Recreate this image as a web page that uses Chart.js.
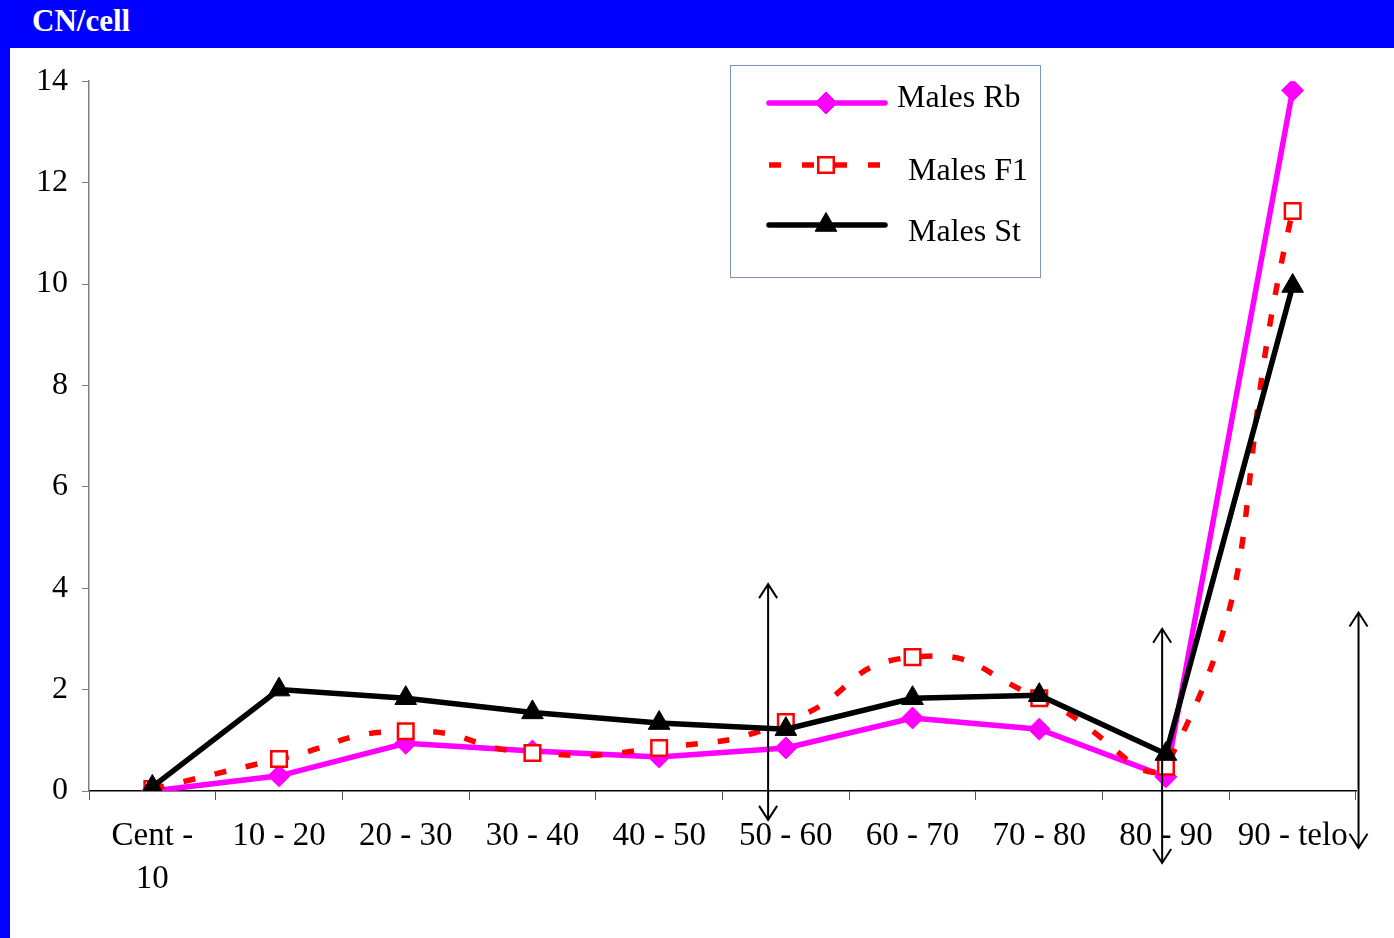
<!DOCTYPE html>
<html>
<head>
<meta charset="utf-8">
<title>CN/cell</title>
<script src="https://cdn.jsdelivr.net/npm/chart.js@4/dist/chart.umd.min.js"></script>
<style>
  html, body { margin: 0; padding: 0; }
  body { width: 1394px; height: 938px; background: #0000FF; position: relative; overflow: hidden; }
  #title { position: absolute; left: 32px; top: 2px; color: #FFFFFF; font: bold 31px "Liberation Serif", "Times New Roman", serif; line-height: 38px; }
  #panel { position: absolute; left: 10px; top: 48px; width: 1384px; height: 890px; background: #FFFFFF; }
  #chart { display: block; }
</style>
</head>
<body>
<div id="title">CN/cell</div>
<div id="panel"><canvas id="chart" width="1384" height="890"></canvas></div>
<script>
// Chromosome segments, from the centromere out to the telomere
const categories = [['Cent -', '10'], '10 - 20', '20 - 30', '30 - 40', '40 - 50', '50 - 60', '60 - 70', '70 - 80', '80 - 90', '90 - telo'];

// Mean copy number per cell in each segment
const malesRb = [0.0, 0.30, 0.94, 0.79, 0.67, 0.85, 1.44, 1.22, 0.28, 13.82];
const malesF1 = [0.04, 0.63, 1.18, 0.75, 0.85, 1.36, 2.64, 1.83, 0.48, 11.44];
const malesSt = [0.08, 2.00, 1.83, 1.55, 1.34, 1.22, 1.83, 1.89, 0.73, 9.96];

const yTicks = [0, 2, 4, 6, 8, 10, 12, 14];

// Double-headed marker arrows: x in category units, y range in CN/cell units
const arrowX = [4.86, 7.97, 9.52];
const arrowTop = [4.08, 3.2, 3.52];
const arrowBottom = [-0.57, -1.42, -1.12];

const serif = '"Liberation Serif", "Times New Roman", serif';

const datasets = [
  {
    label: 'Males Rb', data: malesRb,
    borderColor: '#FF00FF', backgroundColor: '#FF00FF', borderWidth: 5.5,
    pointStyle: 'rectRot', pointRadius: 11, pointBorderWidth: 1,
    pointBackgroundColor: '#FF00FF', pointBorderColor: '#FF00FF',
    tension: 0, order: 2
  },
  {
    label: 'Males F1', data: malesF1,
    borderColor: '#FF0000', backgroundColor: '#FFFFFF', borderWidth: 5.5,
    borderDash: [12, 20],
    pointStyle: 'rect', pointRadius: 11, pointBorderWidth: 2.5,
    pointBackgroundColor: '#FFFFFF', pointBorderColor: '#FF0000',
    tension: 0.55, order: 1
  },
  {
    label: 'Males St', data: malesSt,
    borderColor: '#000000', backgroundColor: '#000000', borderWidth: 5.5,
    pointStyle: 'triangle', pointRadius: 12.5, pointBorderWidth: 1,
    pointBackgroundColor: '#000000', pointBorderColor: '#000000',
    tension: 0, order: 0
  }
];

// Floating legend box drawn inside the plot
const legendBox = {
  id: 'legendBox',
  afterDraw(chart) {
    const ctx = chart.ctx;
    ctx.save();
    ctx.strokeStyle = '#7F95B5';
    ctx.lineWidth = 1;
    ctx.strokeRect(720.5, 17.5, 310, 212);
    const rows = [
      { ds: 0, y: 55, textX: 887, textY: 51, dash: [] },
      { ds: 1, y: 117, textX: 898, textY: 124, dash: [12, 21] },
      { ds: 2, y: 177, textX: 898, textY: 185, dash: [] }
    ];
    rows.forEach(r => {
      const d = datasets[r.ds];
      ctx.save();
      ctx.strokeStyle = d.borderColor;
      ctx.lineWidth = d.borderWidth;
      ctx.lineCap = r.dash.length ? 'butt' : 'round';
      ctx.setLineDash(r.dash);
      ctx.beginPath();
      ctx.moveTo(759, r.y);
      ctx.lineTo(875, r.y);
      ctx.stroke();
      ctx.restore();
      ctx.save();
      ctx.fillStyle = d.pointBackgroundColor;
      ctx.strokeStyle = d.pointBorderColor;
      ctx.lineWidth = d.pointBorderWidth;
      Chart.helpers.drawPoint(ctx, { pointStyle: d.pointStyle, radius: d.pointRadius, rotation: 0, borderWidth: d.pointBorderWidth }, 816, r.y);
      ctx.restore();
      ctx.fillStyle = '#000000';
      ctx.font = '32px ' + serif;
      ctx.textBaseline = 'middle';
      ctx.textAlign = 'left';
      ctx.fillText(d.label, r.textX, r.textY);
    });
    ctx.restore();
  }
};

// Vertical double-headed arrows placed through the scales
const arrows = {
  id: 'arrows',
  afterDraw(chart) {
    const ctx = chart.ctx;
    const xs = chart.scales.x, ys = chart.scales.y;
    ctx.save();
    ctx.strokeStyle = '#000000';
    ctx.lineWidth = 2;
    ctx.lineCap = 'butt';
    for (let i = 0; i < arrowX.length; i++) {
      const x = xs.getPixelForValue(arrowX[i]);
      const y1 = ys.getPixelForValue(arrowTop[i]);
      const y2 = ys.getPixelForValue(arrowBottom[i]);
      ctx.beginPath();
      ctx.moveTo(x, y1); ctx.lineTo(x, y2);
      ctx.moveTo(x - 9, y1 + 14); ctx.lineTo(x, y1); ctx.lineTo(x + 9, y1 + 14);
      ctx.moveTo(x - 9, y2 - 14); ctx.lineTo(x, y2); ctx.lineTo(x + 9, y2 - 14);
      ctx.stroke();
    }
    ctx.restore();
  }
};

new Chart(document.getElementById('chart'), {
  type: 'line',
  data: { labels: categories, datasets: datasets },
  options: {
    responsive: false,
    animation: false,
    layout: { padding: { top: 32, right: 38, left: 0, bottom: 0 } },
    plugins: { legend: { display: false }, tooltip: { enabled: false }, title: { display: false } },
    scales: {
      x: {
        type: 'category',
        offset: true,
        grid: { display: true, drawOnChartArea: false, drawTicks: true, tickLength: 9, color: '#555555', offset: true },
        border: { display: true, color: '#000000', width: 1.5 },
        ticks: { color: '#000000', font: { family: serif, size: 33, lineHeight: 1.3 }, padding: 15, maxRotation: 0, autoSkip: false },
        afterFit(scale) { scale.height = 147; }
      },
      y: {
        min: 0, max: 14,
        afterBuildTicks(scale) { scale.ticks = yTicks.map(v => ({ value: v })); },
        grid: { display: true, drawOnChartArea: false, drawTicks: true, tickLength: 7, color: '#808080' },
        border: { display: true, color: '#808080', width: 1.5 },
        ticks: { color: '#000000', font: { family: serif, size: 32 }, padding: 14 },
        afterFit(scale) { scale.width = 79; }
      }
    }
  },
  plugins: [legendBox, arrows]
});
</script>
</body>
</html>
